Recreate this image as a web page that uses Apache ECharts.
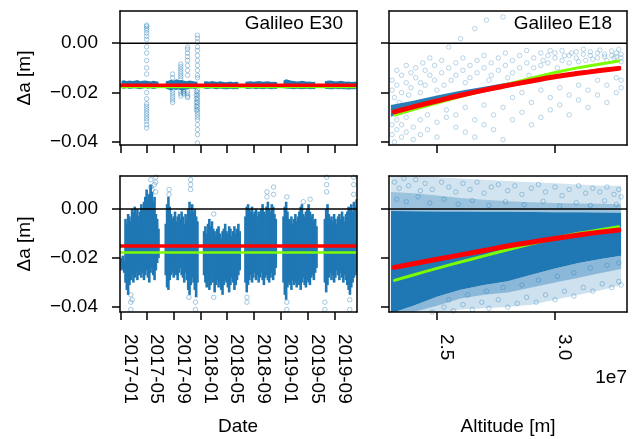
<!DOCTYPE html>
<html>
<head>
<meta charset="utf-8">
<script src="https://cdn.jsdelivr.net/npm/echarts@6/dist/echarts.min.js"></script>
<style>
  html, body { margin: 0; padding: 0; background: #fff; }
  #chart { width: 633px; height: 439px; }
</style>
</head>
<body>
<div id="chart"></div>
<script>
// ---------------------------------------------------------------------------
// Semi-major axis residuals (Δa) of Galileo E30 (vs. date) and E18 (vs. altitude).
// Residual values are given in millimetres, altitudes in units of 1e7 m.
// ---------------------------------------------------------------------------

// Axis ticks
const dateTicks = ['2017-01', '2017-05', '2017-09', '2018-01', '2018-05', '2018-09', '2019-01', '2019-05', '2019-09'];
const altTicks = [2.5, 3.0];
const yTicks = [0.00, -0.02, -0.04];

// E30: start date of each continuous tracking arc
const arcStart = ['2017-01-06', '2017-07-26', '2018-01-16', '2018-07-23', '2019-01-12', '2019-07-19'];

// E30 upper panel: edges of the residual band, one value every 12 days per arc (mm)
const e30TopHigh = [
  [-15.2, -15.0, -15.4, -15.1, -15.3, -15.2, -14.9, -15.4, -15.2, -15.1, -15.3, -15.5, -15.2, -15.4, -15.6],
  [-15.4, -15.2, -14.8, -15.1, -14.6, -15.0, -14.9, -15.2, -15.4, -15.1, -15.3, -15.5, -15.6],
  [-15.5, -15.4, -15.6, -15.3, -15.5, -15.7, -15.4, -15.6, -15.8, -15.7, -15.5, -15.8, -15.6, -15.7],
  [-15.6, -15.5, -15.4, -15.6, -15.5, -15.3, -15.5, -15.6, -15.4, -15.5, -15.7, -15.6, -15.8],
  [-15.1, -14.6, -14.9, -15.2, -15.3, -15.5, -15.4, -15.2, -15.4, -15.6, -15.5, -15.7, -15.6],
  [-15.4, -15.2, -15.1, -15.3, -15.5, -15.4, -15.2, -15.4, -15.6, -15.5, -15.7, -15.6, -15.5]
];
const e30TopLow = [
  [-18.2, -18.4, -18.1, -18.5, -18.3, -18.2, -18.4, -18.6, -18.3, -18.1, -18.4, -18.2, -18.5, -18.3, -18.0],
  [-18.4, -18.8, -19.2, -18.6, -19.0, -18.7, -19.3, -18.9, -18.6, -18.4, -18.3, -18.5, -18.2],
  [-18.3, -18.5, -18.4, -18.2, -18.5, -18.6, -18.3, -18.5, -18.7, -18.6, -18.4, -18.7, -18.5, -18.6],
  [-18.4, -18.5, -18.4, -18.3, -18.6, -18.4, -18.5, -18.6, -18.3, -18.5, -18.6, -18.4, -18.5],
  [-18.2, -18.3, -18.4, -18.5, -18.6, -18.4, -18.5, -18.7, -18.5, -18.4, -18.6, -18.5, -18.7],
  [-18.4, -18.5, -18.7, -18.6, -18.4, -18.6, -18.5, -18.7, -18.6, -18.8, -18.7, -18.6, -18.5]
];
// E30 upper panel: isolated outliers (date, values in mm)
const e30TopSpikes = [
  ['2017-04-30', [7.3, 6.8, 6.0, 5.2, 4.1, 2.8, 1.5, -1.5, -4.0, -7.0, -10.0, -12.5, -20.0, -22.5, -24.5, -25.5, -26.5, -27.5, -28.5, -29.5, -30.5, -31.5, -33.0, -34.3]],
  ['2017-08-26', [-12.5, -14.0, -19.0, -20.0, -21.0, -22.0, -23.0, -24.0]],
  ['2017-10-02', [-8.5, -9.5, -10.5, -11.5, -12.5, -13.5, -14.5, -19.5, -20.5, -21.4]],
  ['2017-10-15', [-19.0, -19.5, -20.0, -20.5]],
  ['2017-11-02', [-1.6, -2.5, -4.0, -5.5, -7.0, -9.0, -11.0, -13.0, -19.5, -20.5, -21.5, -22.0]],
  ['2017-12-12', [-19.5, -21.0, -22.5, -24.0, -25.5, -27.0]],
  ['2017-12-17', [3.2, 2.0, 0.5, -1.5, -3.0, -5.0, -7.0, -9.0, -11.0, -13.0, -14.0, -19.0, -20.0, -21.0, -22.0, -23.0, -24.0, -25.0, -26.0, -27.0, -28.0, -29.0, -30.0, -31.0, -33.0, -35.0, -37.0, -40.4]]
];

// E30 lower panel: spread of the residuals, one value every 6 days per arc (mm)
const e30BottomHigh = [
  [-20, -19, -21, -4, -6, -2, -3, -5, 0, -1, 1, -2, 0, -3, -1, 2, 0, 3, 5, 8, 4, 6, 10, 7, 3, 5, -2, -4, -8],
  [-6, 2, 5, 1, -2, -4, -3, -1, -5, -3, -2, -4, -1, -3, -6, -2, -4, 0, 3, -1, 2, -1, 0, -3, -5],
  [-9, -7, -10, -6, -4, -7, -5, -8, -9, -11, -8, -7, -10, -12, -9, -8, -6, -9, -10, -7, -8, -11, -9, -7, -10, -8, -6, -9],
  [-3, 1, 2, 0, -1, 1, -2, -1, 0, -3, -1, -2, 0, 2, -1, -2, 1, 3, 0, -1, 2, 1, -2, -4],
  [-3, 1, 3, -1, -4, -5, -3, -6, -4, -2, -5, -3, -1, 1, 2, -2, -3, -1, 0, 2, -1, -3, -2, -5, -4, -7],
  [-4, 0, 2, -2, -4, -3, -5, -2, -4, -6, -3, -2, -4, -1, -3, -5, -2, -1, 1, 0, 2, -1, 3, 1, 4]
];
const e30BottomLow = [
  [-25, -24, -26, -30, -33, -35, -31, -29, -27, -30, -28, -26, -29, -27, -25, -28, -26, -29, -27, -25, -28, -30, -26, -24, -27, -29, -25, -22, -20],
  [-27, -32, -33, -29, -27, -26, -28, -25, -27, -29, -26, -24, -27, -28, -30, -26, -29, -33, -35, -31, -28, -30, -33, -36, -30],
  [-27, -30, -32, -29, -33, -31, -28, -30, -34, -31, -29, -32, -30, -33, -35, -31, -29, -30, -32, -34, -31, -28, -30, -33, -31, -29, -27, -25],
  [-30, -34, -31, -29, -27, -30, -28, -26, -29, -27, -30, -28, -26, -29, -31, -28, -27, -29, -30, -28, -26, -29, -27, -24],
  [-30, -35, -37, -32, -30, -31, -33, -29, -31, -30, -32, -29, -31, -33, -30, -28, -31, -32, -29, -30, -31, -28, -27, -29, -26, -24],
  [-30, -34, -31, -28, -26, -29, -27, -30, -28, -25, -27, -29, -26, -28, -30, -27, -29, -31, -33, -35, -32, -30, -28, -27, -26]
];
const e30BottomSpikes = [
  ['2017-02-17', [-35, -38, -41]], ['2017-02-23', [-37]],
  ['2017-05-19', [6, 9, 12]], ['2017-05-25', [8]], ['2017-06-04', [10]], ['2017-06-10', [7, 11, 13]],
  ['2017-08-10', [6, 8]],
  ['2017-11-08', [-36]], ['2017-11-16', [8, 10, 12]], ['2017-12-08', [-38, -41]],
  ['2018-03-01', [-2, -36]],
  ['2018-07-30', [-36, -38]], ['2018-10-29', [5, 7]], ['2018-11-28', [6, 9]],
  ['2019-01-27', [-38, -41, 5]], ['2019-04-12', [3]], ['2019-05-13', [4]],
  ['2019-07-19', [-38, -41]], ['2019-07-27', [7, 10, 13]],
  ['2019-11-09', [-37, -41]], ['2019-11-27', [6, 10, 13]]
];

// E30 fitted offsets and model value (mm)
const e30FitTop = -17.0;
const e30FitBottom = -15.1;
const e30Model = -17.7;

// E18: fitted curves and model against altitude (1e7 m, mm)
const fitAlt = [2.32, 2.40, 2.50, 2.60, 2.70, 2.80, 2.90, 3.00, 3.10, 3.20, 3.27];
const e18Model = [-29.1, -26.9, -24.2, -21.6, -19.1, -16.6, -14.2, -11.9, -9.9, -8.3, -7.2];
const e18FitTop = [-27.8, -25.8, -23.4, -21.1, -19.0, -17.1, -15.3, -13.6, -12.2, -11.0, -10.2];
const e18FitBottom = [-23.8, -22.3, -20.5, -18.7, -16.9, -15.1, -13.5, -12.0, -10.6, -9.3, -8.5];

// E18: edges of the dense part of the residual cloud (mm)
const bandAlt = [2.305, 2.40, 2.50, 2.60, 2.70, 2.80, 2.90, 3.00, 3.10, 3.20, 3.28];
const e18TopHigh = [-25.0, -23.3, -21.2, -19.3, -17.6, -15.9, -14.3, -12.8, -11.4, -10.2, -9.3];
const e18TopLow = [-29.8, -27.0, -24.5, -22.0, -19.9, -17.9, -16.1, -14.4, -12.9, -11.6, -10.8];
const e18BottomCoreHigh = [-0.8, -0.9, -1.0, -1.0, -1.1, -1.1, -1.2, -1.3, -1.3, -1.4, -1.5];
const e18BottomCoreLow = [-42.5, -39.5, -35.8, -32.9, -31.0, -29.5, -26.8, -24.2, -22.0, -20.3, -19.0];
const e18BottomInnerLow = [-43, -42, -39.5, -36.5, -35, -34, -32, -30, -28, -26, -24.5];
const e18BottomOuterLow = [-43, -43, -42.5, -41, -40.5, -40, -39, -37, -35, -33, -31];
const e18BottomUpperDense = [7.0, 6.5, 5.5, 4.5, 3.8, 3.2, 2.8, 2.5, 2.3, 2.2, 2.0];
const e18BottomOuterHigh = [14, 14, 13, 12.5, 12, 11.5, 11, 10.5, 10, 9.5, 9.5];

// E18: scattered residuals (altitude 1e7 m, mm)
const e18TopPoints = [
  [2.31,-15],[2.31,-19],[2.32,-22],[2.33,-11],[2.33,-17],[2.34,-24],[2.35,-13],[2.35,-20],[2.37,-9],[2.37,-16],
  [2.38,-21],[2.39,-12],[2.39,-18],[2.41,-14],[2.41,-10],[2.43,-16],[2.43,-20],[2.44,-8],[2.45,-11],[2.45,-17],
  [2.47,-13],[2.47,-6],[2.49,-9],[2.49,-15],[2.50,-19],[2.52,-12],[2.52,-7],[2.53,-17],[2.55,-1.6],[2.55,-10],
  [2.56,-15],[2.58,-8],[2.58,-13],[2.60,1.8],[2.61,-11],[2.61,-6],[2.62,-16],[2.64,-9],[2.64,-14],[2.66,5.9],
  [2.67,-7],[2.67,-12],[2.70,-10],[2.70,-5],[2.71,9.3],[2.72,-15],[2.73,-8],[2.73,-13],[2.76,-6],[2.76,-11],
  [2.78,10.6],[2.79,-9],[2.79,-4],[2.80,-14],[2.82,-7],[2.82,-12],[2.85,-5],[2.85,-10],[2.88,-8],[2.88,-3],
  [2.89,-13],[2.91,-6],[2.91,-10],[2.94,-4],[2.94,-9],[2.95,-7],[2.97,-5],[2.97,-8],[2.98,-3],[3.00,-6],
  [3.00,-4],[3.01,-10],[3.03,-3],[3.03,-7],[3.04,-5],[3.06,-5],[3.06,-8],[3.07,-4],[3.09,-3.5],[3.09,-6],
  [3.10,-7.5],[3.12,-4.5],[3.12,-2.5],[3.13,-7],[3.15,-5],[3.15,-3.5],[3.16,-6.5],[3.18,-4],[3.18,-6],[3.19,-2.8],
  [3.21,-4.5],[3.21,-5.5],[3.22,-7],[3.24,-3.2],[3.24,-5],[3.25,-6],[3.26,-4],[3.26,-5.5],[3.27,-2.5],[3.28,-4.5],
  [3.28,-6],[3.28,-7.5],
  [2.31,-33],[2.31,-37],[2.32,-40],[2.33,-31],[2.33,-35],[2.35,-38],[2.35,-33],[2.37,-30],[2.37,-36],[2.40,-34],
  [2.40,-39],[2.43,-31],[2.43,-37],[2.46,-29],[2.46,-35],[2.50,-32],[2.50,-38],[2.54,-30],[2.54,-27],[2.58,-34],
  [2.58,-29],[2.62,-36],[2.62,-26],[2.66,-31],[2.66,-38],[2.70,-25],[2.70,-33],[2.74,-29],[2.74,-35],[2.78,-26],
  [2.78,-39],[2.82,-31],[2.82,-22],[2.86,-28],[2.86,-20],[2.90,-33],[2.90,-24],[2.94,-30],[2.94,-19],[2.98,-27],
  [2.98,-22],[3.02,-25],[3.02,-18],[3.06,-29],[3.06,-21],[3.10,-23],[3.10,-17],[3.14,-26],[3.14,-19],[3.18,-21],
  [3.18,-15],[3.22,-24],[3.22,-17],[3.26,-20],[3.26,-14],[3.28,-18],[3.28,-15]
];
const e18BottomPoints = [
  [2.32,11],[2.34,8.5],[2.36,12.5],[2.38,9.5],[2.41,12],[2.43,7.5],[2.45,10.5],[2.48,8],[2.52,11],[2.55,9],
  [2.58,7],[2.61,10.5],[2.64,8],[2.67,11],[2.70,6.5],[2.73,9],[2.76,10],[2.80,7.5],[2.83,9.5],[2.86,6],
  [2.90,8.5],[2.93,10],[2.96,7],[3.00,9],[3.03,5.5],[3.06,8],[3.10,9.5],[3.13,6.5],[3.16,8.5],[3.19,7],
  [3.22,9],[3.25,6],[3.27,8],[3.28,5],
  [2.33,4],[2.37,3],[2.42,5],[2.47,2.5],[2.53,4],[2.59,2],[2.65,3.5],[2.72,1.5],[2.79,3],[2.87,1.8],
  [2.95,3.2],[3.02,1.2],[3.09,2.6],[3.15,1.5],[3.21,3.4],[3.26,1.9],
  [2.48,-42],[2.53,-40],[2.57,-41.5],[2.61,-39],[2.65,-41],[2.69,-38],[2.72,-40.5],[2.76,-37],[2.80,-40],[2.84,-38.5],
  [2.88,-36],[2.92,-38],[2.96,-35],[3.00,-37],[3.04,-33.5],[3.08,-35.5],[3.12,-32],[3.16,-33.5],[3.20,-30.5],[3.24,-32],
  [3.27,-29.5],[3.28,-31],
  [2.55,-37],[2.63,-35],[2.71,-33.5],[2.78,-32],[2.86,-31],[2.93,-29],[3.01,-27.5],[3.08,-26],[3.15,-24],[3.22,-23],[3.27,-22]
];

// ---------------------------------------------------------------------------
const BLUE = '#1f77b4';
const RED = '#ff0000';
const GREEN = '#7cfc00';
const FONT = '"Liberation Sans", Arial, Helvetica, sans-serif';
const DAY = 86400000;
const t = s => Date.parse(s + 'T00:00:00Z');
const mm = v => v / 1000;
const alt = a => a * 1e7;

const dateRange = { min: t('2016-12-30'), max: t('2019-12-12') };
const altRange = { min: 2.297e7, max: 3.305e7 };
const yRangeTop = { min: -0.0412, max: 0.0130 };
const yRangeBottom = { min: -0.0420, max: 0.0135 };

const grids = [
  { left: 120, top: 11, width: 237, height: 134 },
  { left: 389, top: 11, width: 238, height: 134 },
  { left: 120, top: 176, width: 237, height: 136 },
  { left: 389, top: 176, width: 238, height: 136 }
];

const dateTickValues = dateTicks.map(s => t(s + '-01'));
const altTickValues = altTicks.map(alt);

const fmtDate = v => {
  const d = new Date(v);
  return d.getUTCFullYear() + '-' + String(d.getUTCMonth() + 1).padStart(2, '0');
};
const fmtAlt = v => (v / 1e7).toFixed(1);
const fmtY = v => (Math.abs(v) < 1e-12 ? '0.00' : v.toFixed(2).replace('-', '\u2212'));

const lineBlack = { color: '#000', width: 1.5 };

function mainX(i) {
  const isDate = i % 2 === 0;
  const showLabel = i >= 2;
  const r = isDate ? dateRange : altRange;
  const vals = isDate ? dateTickValues : altTickValues;
  return {
    type: 'value', gridIndex: i, min: r.min, max: r.max, z: 10,
    axisLine: { show: true, onZero: false, lineStyle: lineBlack },
    axisTick: { show: true, length: 8, customValues: vals, lineStyle: lineBlack },
    axisLabel: {
      show: showLabel, customValues: vals, formatter: isDate ? fmtDate : fmtAlt,
      rotate: -90, margin: 22, fontSize: 19, color: '#000', fontFamily: FONT,
      verticalAlign: 'bottom'
    },
    splitLine: { show: false }
  };
}
function frameX(i) {
  const r = i % 2 === 0 ? dateRange : altRange;
  return {
    type: 'value', gridIndex: i, position: 'top', min: r.min, max: r.max, z: 10,
    axisLine: { show: true, onZero: false, lineStyle: lineBlack },
    axisTick: { show: false }, axisLabel: { show: false }, splitLine: { show: false }
  };
}
function mainY(i) {
  const r = i < 2 ? yRangeTop : yRangeBottom;
  return {
    type: 'value', gridIndex: i, min: r.min, max: r.max, z: 10,
    axisLine: { show: true, onZero: false, lineStyle: lineBlack },
    axisTick: { show: true, length: 8, customValues: yTicks, lineStyle: lineBlack },
    axisLabel: {
      show: i % 2 === 0, customValues: yTicks, formatter: fmtY,
      margin: 22, fontSize: 19, color: '#000', fontFamily: FONT
    },
    splitLine: { show: false }
  };
}
function frameY(i) {
  const r = i < 2 ? yRangeTop : yRangeBottom;
  return {
    type: 'value', gridIndex: i, position: 'right', min: r.min, max: r.max, z: 10,
    axisLine: { show: true, onZero: false, lineStyle: lineBlack },
    axisTick: { show: false }, axisLabel: { show: false }, splitLine: { show: false }
  };
}

// Filled band between an upper and lower edge, positioned through the axes
function bandSeries(g, xs, hi, lo, color, opacity, z) {
  return {
    type: 'custom', xAxisIndex: g, yAxisIndex: g, clip: true, silent: true, z: z,
    data: [[xs[0], hi[0]]],
    encode: { x: 0, y: 1 },
    renderItem: function (params, api) {
      const pts = [];
      for (let i = 0; i < xs.length; i++) pts.push(api.coord([xs[i], hi[i]]));
      for (let i = xs.length - 1; i >= 0; i--) pts.push(api.coord([xs[i], lo[i]]));
      return { type: 'polygon', shape: { points: pts }, style: { fill: color, opacity: opacity } };
    }
  };
}

function pointSeries(g, data, opacity) {
  return {
    type: 'scatter', xAxisIndex: g, yAxisIndex: g, data: data, clip: true, silent: true, z: 2,
    symbol: 'circle', symbolSize: 4.5,
    itemStyle: { color: 'rgba(0,0,0,0)', borderColor: BLUE, borderWidth: 1, opacity: opacity }
  };
}

function fitLine(g, xs, ys, color, width, z) {
  return {
    type: 'line', xAxisIndex: g, yAxisIndex: g, silent: true, z: z, smooth: true,
    symbol: 'none', data: xs.map((x, i) => [x, ys[i]]),
    lineStyle: { color: color, width: width, cap: 'round' }
  };
}

// Constant level across the whole panel width
function levelLine(g, range, v, color, width, z) {
  return {
    type: 'line', xAxisIndex: g, yAxisIndex: g, silent: true, z: z,
    symbol: 'none', data: [[range.min, v], [range.max, v]],
    lineStyle: { color: color, width: width }
  };
}

const spikesToPoints = list => list.flatMap(([d, vals]) => vals.map(v => [t(d), mm(v)]));

const series = [];

// Panel 0: E30 upper
arcStart.forEach((s, k) => {
  const xs = e30TopHigh[k].map((_, i) => t(s) + i * 12 * DAY);
  series.push(bandSeries(0, xs, e30TopHigh[k].map(mm), e30TopLow[k].map(mm), BLUE, 1, 2));
});
series.push(pointSeries(0, spikesToPoints(e30TopSpikes), 0.4));
series.push(levelLine(0, dateRange, mm(e30Model), GREEN, 2.5, 3));
series.push(levelLine(0, dateRange, mm(e30FitTop), RED, 3.5, 4));
series.push(levelLine(0, dateRange, 0, '#000', 1.5, 5));

// Panel 2: E30 lower, drawn as vertical spread segments
const segs = [];
arcStart.forEach((s, k) => {
  e30BottomHigh[k].forEach((h, i) => {
    segs.push([t(s) + i * 6 * DAY, mm(e30BottomLow[k][i]), mm(h)]);
  });
});
series.push({
  type: 'custom', xAxisIndex: 2, yAxisIndex: 2, clip: true, silent: true, z: 2,
  data: segs, encode: { x: 0, y: [1, 2] },
  renderItem: function (params, api) {
    const a = api.coord([api.value(0), api.value(1)]);
    const b = api.coord([api.value(0), api.value(2)]);
    return { type: 'line', shape: { x1: a[0], y1: a[1], x2: b[0], y2: b[1] }, style: { stroke: BLUE, lineWidth: 2.6 } };
  }
});
series.push(pointSeries(2, spikesToPoints(e30BottomSpikes), 0.4));
series.push(levelLine(2, dateRange, mm(e30Model), GREEN, 2.5, 3));
series.push(levelLine(2, dateRange, mm(e30FitBottom), RED, 3.5, 4));
series.push(levelLine(2, dateRange, 0, '#000', 1.5, 5));

// Panel 1: E18 upper
const bx = bandAlt.map(alt);
series.push(pointSeries(1, e18TopPoints.map(([a, v]) => [alt(a), mm(v)]), 0.3));
series.push(bandSeries(1, bx, e18TopHigh.map(mm), e18TopLow.map(mm), BLUE, 0.95, 2));
series.push(fitLine(1, fitAlt.map(alt), e18Model.map(mm), GREEN, 3, 3));
series.push(fitLine(1, fitAlt.map(alt), e18FitTop.map(mm), RED, 5, 4));
series.push(levelLine(1, altRange, 0, '#000', 1.5, 5));

// Panel 3: E18 lower
series.push(bandSeries(3, bx, e18BottomOuterHigh.map(mm), e18BottomCoreHigh.map(mm), BLUE, 0.2, 1));
series.push(bandSeries(3, bx, e18BottomUpperDense.map(mm), e18BottomCoreHigh.map(mm), BLUE, 0.3, 1));
series.push(bandSeries(3, bx, e18BottomCoreLow.map(mm), e18BottomOuterLow.map(mm), BLUE, 0.22, 1));
series.push(bandSeries(3, bx, e18BottomCoreLow.map(mm), e18BottomInnerLow.map(mm), BLUE, 0.38, 1));
series.push(bandSeries(3, bx, e18BottomCoreHigh.map(mm), e18BottomCoreLow.map(mm), BLUE, 1, 2));
series.push(pointSeries(3, e18BottomPoints.map(([a, v]) => [alt(a), mm(v)]), 0.35));
series.push(fitLine(3, fitAlt.map(alt), e18Model.map(mm), GREEN, 3, 3));
series.push(fitLine(3, fitAlt.map(alt), e18FitBottom.map(mm), RED, 5, 4));
series.push(levelLine(3, altRange, 0, '#000', 1.5, 5));

function label(text, x, y, align, rotation) {
  return {
    type: 'text', x: x, y: y, rotation: rotation || 0, silent: true, z: 20,
    style: {
      text: text, fill: '#000', font: '19px ' + FONT,
      textAlign: align, align: align, textVerticalAlign: 'middle', verticalAlign: 'middle'
    }
  };
}

const option = {
  animation: false,
  backgroundColor: '#fff',
  grid: grids,
  xAxis: [0, 1, 2, 3].map(mainX).concat([0, 1, 2, 3].map(frameX)),
  yAxis: [0, 1, 2, 3].map(mainY).concat([0, 1, 2, 3].map(frameY)),
  series: series,
  graphic: [
    label('Galileo E30', 343, 24, 'right'),
    label('Galileo E18', 612, 24, 'right'),
    label('\u0394a [m]', 25, 78, 'center', Math.PI / 2),
    label('\u0394a [m]', 25, 244, 'center', Math.PI / 2),
    label('Date', 238, 427, 'center'),
    label('Altitude [m]', 508, 427, 'center'),
    label('1e7', 627, 378, 'right')
  ]
};

const chart = echarts.init(document.getElementById('chart'), null, { renderer: 'canvas' });
chart.setOption(option);
</script>
</body>
</html>
